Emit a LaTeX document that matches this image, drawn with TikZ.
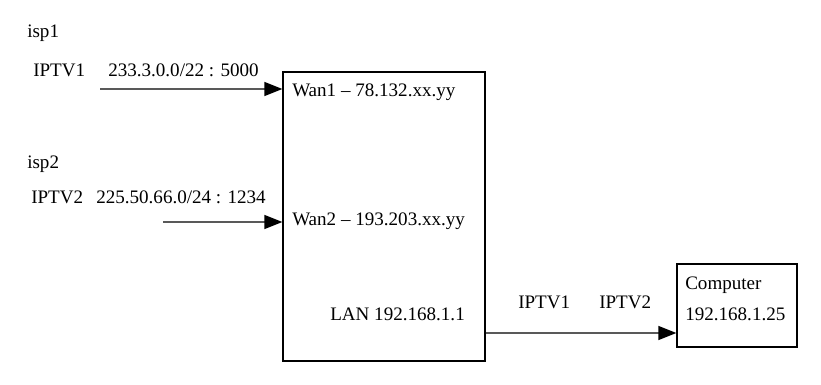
\documentclass[tikz,border=0pt]{standalone}
\usepackage{fontspec}
\setmainfont{Liberation Serif}
\usetikzlibrary{arrows.meta,fit}
\begin{document}
\begin{tikzpicture}[x=0.75pt,y=-0.75pt,
  lbl/.style={anchor=base west, inner sep=0pt, font=\fontsize{14.3}{17}\selectfont},
  box/.style={draw, line width=0.9pt, inner sep=0pt},
  conn/.style={draw=black!65, line width=1pt, -{Triangle[length=13.5pt,width=10.5pt,color=black]}}]
\useasboundingbox (0,0) rectangle (821,385);
% boxes
\coordinate (r1) at (283,72);
\coordinate (r2) at (485,361);
\node[box, fit=(r1)(r2)] (router) {};
\coordinate (c1) at (677,264);
\coordinate (c2) at (797,347);
\node[box, fit=(c1)(c2)] (comp) {};
% texts
\node[lbl] (isp1) at (27,38) {isp1};
\node[lbl] (iptv1) at (33,77) {IPTV1};
\node[lbl] (net1) at (108,77) {233.3.0.0/22 : 5000};
\node[lbl] (isp2) at (27,168) {isp2};
\node[lbl] (iptv2) at (31,203) {IPTV2};
\node[lbl] (net2) at (96,203) {225.50.66.0/24 : 1234};
\node[lbl] (wan1) at (292,97) {Wan1 – 78.132.xx.yy};
\node[lbl] (wan2) at (292,225) {Wan2 – 193.203.xx.yy};
\node[lbl] (lan) at (330,320) {LAN 192.168.1.1};
\node[lbl] (out1) at (518,308) {IPTV1};
\node[lbl] (out2) at (599,308) {IPTV2};
\node[lbl] (cname) at (685,289) {Computer};
\node[lbl] (cip) at (685,320) {192.168.1.25};
% connectors
\coordinate (s1) at (100,89);
\coordinate (s2) at (163,222);
\draw[conn] (s1) -- (s1 -| router.west);
\draw[conn] (s2) -- (s2 -| router.west);
\coordinate (s3) at (485,333);
\draw[conn] (s3 -| router.east) -- (s3 -| comp.west);
\end{tikzpicture}
\end{document}
